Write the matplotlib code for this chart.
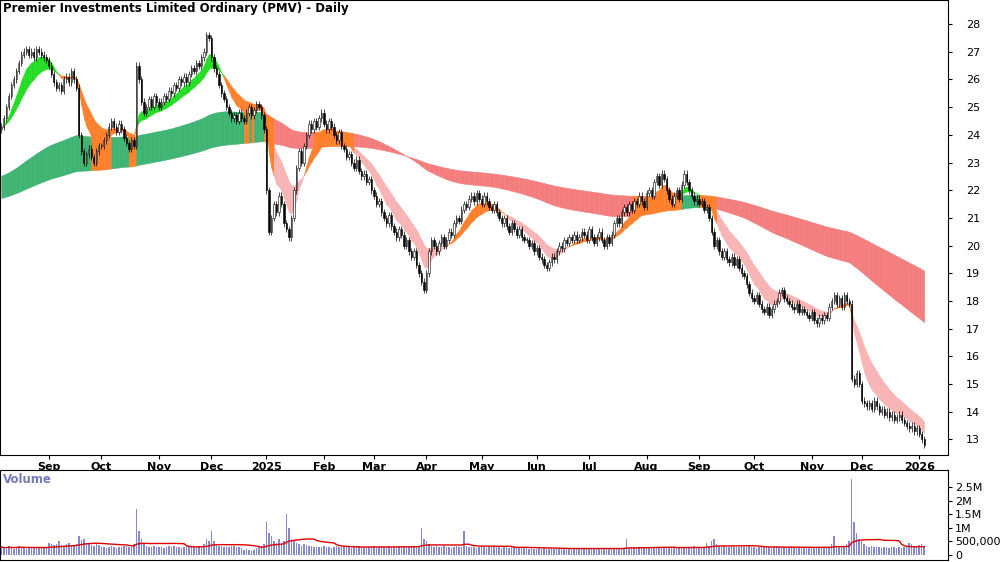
import matplotlib
matplotlib.use("Agg")
import matplotlib.pyplot as plt
import numpy as np
import pandas as pd

title = "Premier Investments Limited Ordinary (PMV) - Daily"
closes = [
 24.3,24.6,25.0,25.4,25.8,26.0,26.3,26.6,26.9,27.0,27.1,26.9,27.0,26.8,27.1,27.0,26.9,26.8,26.7,
 26.5,26.2,25.9,25.7,25.8,25.6,26.0,26.1,25.9,26.3,26.0,25.7,24.0,23.4,23.0,23.3,23.5,23.2,23.0,23.4,23.6,
 23.6,23.8,24.0,24.3,24.5,24.3,24.1,24.4,24.2,23.9,23.7,23.5,23.8,23.6,26.5,26.0,25.2,24.8,25.0,25.3,25.0,25.4,25.2,
 25.0,25.2,25.4,25.3,25.6,25.5,25.8,25.7,26.0,25.9,26.1,25.9,26.2,26.4,26.3,26.6,26.5,26.8,27.0,27.6,27.5,
 26.8,26.4,26.2,25.8,25.5,25.3,25.0,24.8,24.6,24.7,24.5,24.8,24.6,24.5,24.8,25.0,24.7,24.9,25.1,25.0,24.7,
 24.2,22.0,20.5,21.0,21.5,21.2,21.8,21.5,20.8,20.6,20.3,21.0,22.0,22.8,23.4,23.0,23.6,24.0,24.4,24.2,24.5,24.3,
 24.6,24.8,24.4,24.2,24.5,24.3,24.0,23.8,24.1,23.6,23.5,23.2,23.3,23.0,22.8,23.1,22.7,22.5,22.6,22.3,
 22.4,22.0,21.8,21.5,21.6,21.2,21.0,20.8,21.1,20.7,20.5,20.3,20.6,20.4,20.0,20.2,19.8,19.6,19.8,19.3,19.0,
 18.7,18.4,19.0,19.8,20.2,20.0,19.8,20.1,20.3,20.0,20.2,20.5,20.4,20.8,21.0,20.9,21.3,21.5,21.4,21.7,
 21.8,21.6,21.9,21.7,21.5,21.8,21.6,21.4,21.3,21.5,21.2,21.0,20.8,21.0,20.7,20.5,20.8,20.6,20.4,20.6,20.3,20.2,
 20.2,20.0,20.1,19.8,19.9,19.6,19.5,19.3,19.2,19.4,19.6,19.5,19.8,20.0,19.9,20.2,20.1,20.3,20.2,20.4,20.2,
 20.3,20.5,20.4,20.2,20.6,20.3,20.1,20.3,20.5,20.2,20.0,20.3,20.1,20.4,20.8,21.0,20.8,21.2,21.4,21.2,21.5,21.3,21.6,
 21.5,21.8,21.6,21.4,21.9,22.0,21.8,22.3,22.5,22.2,22.6,22.4,22.0,21.7,21.5,21.8,22.0,21.7,22.2,22.6,22.3,
 22.0,21.8,21.6,21.7,21.5,21.6,21.3,21.4,21.0,20.5,20.0,20.2,19.8,19.6,19.8,19.5,19.4,19.6,19.3,19.5,19.2,19.0,
 18.9,18.6,18.3,18.1,18.0,18.2,17.9,17.7,17.6,17.8,17.5,17.7,17.9,18.0,18.3,18.4,18.1,18.0,17.9,17.8,17.7,17.9,17.6,
 17.7,17.6,17.5,17.4,17.6,17.3,17.2,17.4,17.3,17.5,17.4,17.8,18.0,18.2,17.9,18.1,17.8,18.2,18.0,17.9,
 15.2,15.0,15.4,15.0,14.4,14.3,14.2,14.3,14.1,14.4,14.2,14.0,14.1,13.9,14.0,13.8,13.9,13.7,13.8,13.9,13.7,
 13.6,13.5,13.4,13.5,13.3,13.4,13.2,13.0,12.8]
volumes_k = [
 300,250,280,320,260,240,300,350,280,260,240,300,270,250,260,280,300,260,250,
 450,400,380,420,500,380,350,400,450,380,360,420,700,550,600,450,400,380,350,420,380,
 300,280,260,300,320,280,260,300,280,320,350,300,280,400,1700,900,600,400,350,300,280,320,300,
 300,280,260,300,320,280,350,300,280,260,300,320,350,300,280,300,320,350,400,600,500,
 900,500,400,350,320,300,280,300,350,320,280,300,250,200,220,180,150,200,250,300,350,
 400,1200,800,700,500,450,600,400,500,1500,1000,600,500,450,400,350,400,380,350,320,300,280,
 300,280,350,300,280,260,300,320,280,300,350,280,300,260,280,300,320,280,300,280,
 300,280,320,300,280,350,300,280,320,300,280,300,350,320,300,280,300,350,320,300,300,
 1000,600,500,400,350,300,320,300,280,350,300,280,260,300,320,280,300,900,350,300,
 300,280,260,300,320,280,260,300,280,320,300,280,260,300,280,260,300,280,260,300,280,260,
 250,230,260,240,220,250,230,260,240,220,250,230,260,240,220,250,230,260,240,220,250,
 250,230,260,240,220,250,230,260,240,220,250,230,260,240,220,250,230,260,240,600,250,280,300,
 260,280,300,250,280,260,300,280,250,270,300,280,260,250,280,300,270,260,280,300,270,
 300,280,320,300,280,260,300,450,350,500,600,400,350,300,320,300,280,350,300,280,300,320,
 300,280,320,300,280,260,300,320,280,300,280,260,300,320,280,300,280,260,300,320,280,300,280,
 260,280,300,250,280,260,300,280,250,270,300,280,400,700,300,350,300,280,400,500,
 2800,1200,800,600,500,400,350,300,350,300,280,300,250,280,300,260,280,300,250,280,260,
 300,280,450,400,350,300,380,400,350]
short_spans = [8, 18]
long_spans = [120, 250]
long_seeds = [22.5, 21.7]

N = len(closes)
dates = pd.bdate_range("2024-08-06", periods=N)
c = np.array(closes)
o = np.concatenate([[c[0] - 0.1], c[:-1]])
h = np.maximum(o, c) + 0.12
l = np.minimum(o, c) - 0.12
vol = np.array(volumes_k[:N] + [300] * max(0, N - len(volumes_k))) * 1000
x = np.arange(N)

def ema(vals, span, seed=None):
    a = 2.0 / (span + 1)
    out = np.empty(len(vals))
    prev = vals[0] if seed is None else seed
    for i, v in enumerate(vals):
        prev = prev + a * (v - prev) if (i > 0 or seed is not None) else v
        out[i] = prev
    return out

f1 = ema(c, short_spans[0]); f2 = ema(c, short_spans[1])
g1 = ema(c, long_spans[0], long_seeds[0]); g2 = ema(c, long_spans[1], long_seeds[1])

fig = plt.figure(figsize=(10, 5.62), dpi=100)
ax = fig.add_axes([0, 1 - 455 / 562, 0.948, 455 / 562])
axv = fig.add_axes([0, 2 / 562, 0.948, 90 / 562])

smin = np.minimum(f1, f2); smax = np.maximum(f1, f2)
lmin = np.minimum(g1, g2); lmax = np.maximum(g1, g2)
for i in range(N - 1):
    xs = [i, i + 1]
    if smin[i] > lmax[i]:
        lc = "#3cb371"
    elif smax[i] < lmin[i]:
        lc = "#f47c7c"
    else:
        lc = "#ff7f2a"
    ax.fill_between(xs, lmin[i:i+2], lmax[i:i+2], color=lc, lw=0.3, ec=lc)
    if f1[i] > f2[i] and smin[i] > lmax[i]:
        sc = "#22dd22"
    elif f1[i] < f2[i] and smax[i] < lmin[i]:
        sc = "#f8b4b4"
    else:
        sc = "#ff7f2a"
    ax.fill_between(xs, smin[i:i+2], smax[i:i+2], color=sc, lw=0.3, ec=sc)

for i in range(N):
    ax.vlines(x[i], l[i], h[i], color="black", lw=0.5, zorder=3)
    up = c[i] >= o[i]
    ax.bar(x[i], max(abs(c[i] - o[i]), 0.03), bottom=min(o[i], c[i]), width=0.55,
           color="white" if up else "black", edgecolor="black", lw=0.4, zorder=4)

xl = (-0.5, N - 0.5 + 9)
ax.set_xlim(*xl)
ax.set_ylim(12.44, 28.87)
ax.yaxis.tick_right()
ax.set_yticks(range(13, 29))
ax.tick_params(axis="y", labelsize=8, length=3, pad=10)
mpos, mlab = [], []
for i in range(1, N):
    if dates[i].month != dates[i - 1].month:
        mpos.append(i)
        mlab.append(str(dates[i].year) if dates[i].month == 1 else dates[i].strftime("%b"))
ax.set_xticks(mpos)
ax.set_xticklabels(mlab, fontsize=8, fontweight="bold")
ax.tick_params(axis="x", length=3, pad=2)
ax.text(0.003, 0.995, title, transform=ax.transAxes, fontsize=8.5, fontweight="bold", va="top")

axv.bar(x, vol, width=0.6, color="#8888cc")
axv.plot(x, pd.Series(vol).rolling(20, min_periods=1).mean().values, color="#dd0000", lw=1)
axv.set_xlim(*xl)
axv.set_ylim(-0.18e6, 3.12e6)
axv.yaxis.tick_right()
axv.set_yticks([0, 5e5, 1e6, 1.5e6, 2e6, 2.5e6])
axv.set_yticklabels(["0", "500,000", "1M", "1.5M", "2M", "2.5M"], fontsize=8)
axv.tick_params(axis="y", length=3, pad=2)
axv.set_xticks(mpos)
axv.tick_params(axis="x", labelbottom=False, length=0)
axv.text(0.003, 0.97, "Volume", transform=axv.transAxes, fontsize=8.5, fontweight="bold",
         color="#7777bb", va="top")
fig.savefig("out.png", dpi=100)
